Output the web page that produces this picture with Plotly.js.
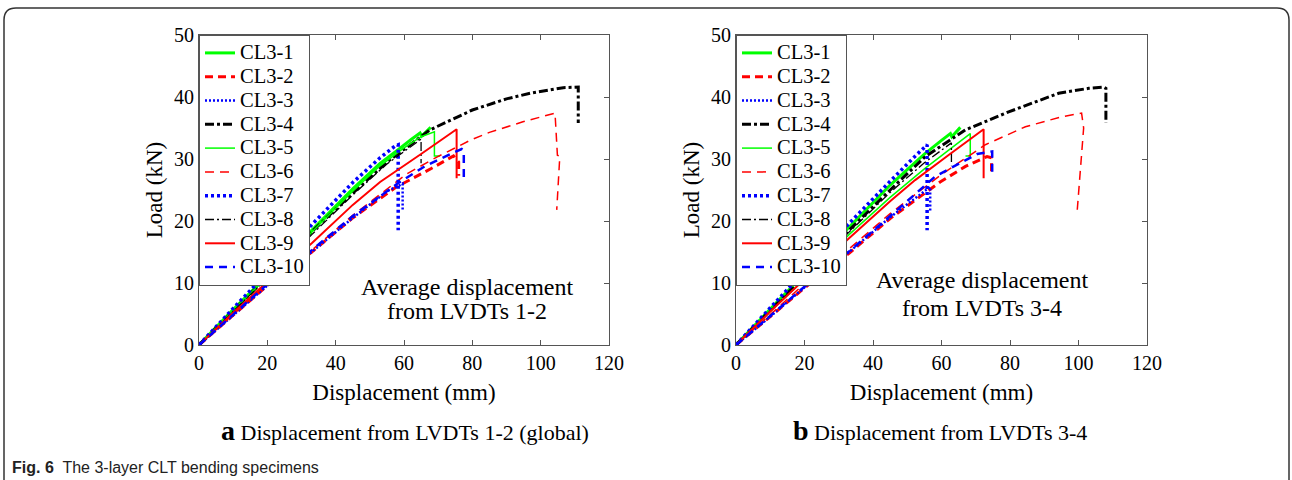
<!DOCTYPE html>
<html>
<head>
<meta charset="utf-8">
<script src="https://cdn.plot.ly/plotly-3.0.1.min.js"></script>
<style>html,body{margin:0;padding:0;background:#fff;}#chart{width:1292px;height:480px;}</style>
</head>
<body>
<div id="chart"></div>
<script>
// ---------- Series names ----------
const seriesNames = ['CL3-1','CL3-2','CL3-3','CL3-4','CL3-5','CL3-6','CL3-7','CL3-8','CL3-9','CL3-10'];

// ---------- Panel a: average displacement from LVDTs 1-2 (global) ----------
const a_CL3_1_x = [0, 10, 20, 33, 45, 53, 58, 62, 64.7, 65.2, 67.8];
const a_CL3_1_y = [0, 5.7, 11.2, 18.5, 25.2, 29.3, 31.4, 33.1, 34.2, 33.7, 35.1];
const a_CL3_2_x = [0, 10, 20, 33, 45, 57.8, 68.1, 74.5, 76, 76];
const a_CL3_2_y = [0, 4.8, 9.6, 15, 20.5, 25.5, 28.5, 30.5, 29.5, 27.3];
const a_CL3_3_x = [0, 10, 20, 33, 45, 55, 59.6, 59.6];
const a_CL3_3_y = [0, 4.8, 9.6, 15, 20.5, 24.8, 26, 21.8];
const a_CL3_4_x = [0, 10, 20, 32.5, 45, 55, 67.6, 80, 90, 96.9, 106.6, 111, 111];
const a_CL3_4_y = [0, 5.5, 11, 18, 24.5, 29.5, 34.7, 37.9, 39.7, 40.6, 41.5, 41.6, 35.8];
const a_CL3_5_x = [0, 10, 20, 33, 45, 53, 60, 65, 68.9, 68.9, 70.5];
const a_CL3_5_y = [0, 5.6, 11, 18.2, 24.8, 28.9, 31.8, 33.6, 34.4, 30.5, 30.5];
const a_CL3_6_x = [0, 10, 20, 33, 45, 60.8, 69.6, 79.3, 85, 94.8, 104.2, 104.9, 105.6, 104.7];
const a_CL3_6_y = [0, 4.9, 9.9, 15.3, 20.9, 27.6, 30.3, 33, 34.3, 36, 37.4, 30.6, 30.4, 21.8];
const a_CL3_7_x = [0, 10, 20, 33, 45, 53, 57.4, 58.3, 58.3];
const a_CL3_7_y = [0, 5.9, 11.7, 19.4, 26.2, 30.2, 32.1, 32.3, 18.5];
const a_CL3_8_x = [0, 10, 20, 33, 45, 55, 65, 65];
const a_CL3_8_y = [0, 5.4, 10.8, 17.8, 24.2, 29.2, 33.2, 29.3];
const a_CL3_9_x = [0, 10, 20, 33, 45, 53, 65, 75.4, 75.4];
const a_CL3_9_y = [0, 5.2, 10.2, 16.4, 22.6, 26.3, 30.8, 34.8, 26.9];
const a_CL3_10_x = [0, 10, 20, 33, 45, 58, 66, 74, 76.9, 77.5, 77.5];
const a_CL3_10_y = [0, 4.9, 9.8, 15.3, 20.8, 26, 28.8, 30.9, 31.6, 31.3, 26.6];

// ---------- Panel b: average displacement from LVDTs 3-4 ----------
const b_CL3_1_x = [0, 10, 20, 33, 45, 55, 60, 62.6, 63, 65.5];
const b_CL3_1_y = [0, 5.8, 11.5, 19, 25.8, 30.8, 33, 34.1, 33.6, 35.1];
const b_CL3_2_x = [0, 10, 20, 33, 45, 59.6, 67, 73.3, 74.6, 74.6];
const b_CL3_2_y = [0, 4.6, 9.2, 14.8, 20.4, 26.3, 28.8, 30.4, 30.2, 28];
const b_CL3_3_x = [0, 10, 20, 33, 45, 56.7, 56.7];
const b_CL3_3_y = [0, 4.6, 9.3, 15, 20.6, 25.5, 21.5];
const b_CL3_4_x = [0, 10, 20, 33, 45, 55.3, 67, 79.6, 94.2, 103, 107.4, 108, 108];
const b_CL3_4_y = [0, 5.6, 11.1, 18.5, 25, 30.4, 34.7, 37.6, 40.6, 41.4, 41.6, 41.4, 35.8];
const b_CL3_5_x = [0, 10, 20, 33, 45, 55, 62, 68.4, 68.4, 67];
const b_CL3_5_y = [0, 5.4, 10.6, 17.8, 23.8, 28.4, 31.4, 34.1, 30.5, 30.5];
const b_CL3_6_x = [0, 10, 20, 33, 45, 60, 72.8, 84.5, 95, 100.9, 101.5, 99.6];
const b_CL3_6_y = [0, 4.9, 9.9, 15.5, 21.2, 27.5, 32.3, 35.2, 36.8, 37.4, 35, 21.5];
const b_CL3_7_x = [0, 10, 20, 33, 45, 52, 55.8, 55.8];
const b_CL3_7_y = [0, 6, 11.9, 19.6, 26.4, 30.3, 32.3, 18.5];
const b_CL3_8_x = [0, 10, 20, 33, 45, 55, 62.9, 62.9];
const b_CL3_8_y = [0, 5.5, 11, 18.2, 24.6, 29.4, 32.6, 29];
const b_CL3_9_x = [0, 10, 20, 33, 45, 52.3, 62, 72.3, 72.3];
const b_CL3_9_y = [0, 5.4, 10.6, 17.2, 23.2, 26.6, 30.6, 34.8, 26.9];
const b_CL3_10_x = [0, 10, 20, 33, 45, 58.2, 70.4, 74.8, 74.8];
const b_CL3_10_y = [0, 4.7, 9.4, 15.1, 20.8, 27.2, 30.8, 31.2, 27.2];

// ---------- Axis ticks and texts ----------
const xTicks = [0, 20, 40, 60, 80, 100, 120];
const yTicks = [0, 10, 20, 30, 40, 50];
const xTitle = 'Displacement (mm)';
const yTitle = 'Load (kN)';
const noteA = ['Average displacement', 'from LVDTs 1-2'];
const noteB = ['Average displacement', 'from LVDTs 3-4'];
const capA = ['a', 'Displacement from LVDTs 1-2 (global)'];
const capB = ['b', 'Displacement from LVDTs 3-4'];
const figCap = ['Fig. 6', 'The 3-layer CLT bending specimens'];

// ---------- Styles ----------
const styles = [
  {color:'#00ff00', width:3,   dash:'solid'},
  {color:'#ff0000', width:3,   dash:'8px,5px'},
  {color:'#0000ff', width:2.5, dash:'2px,2px'},
  {color:'#000000', width:3,   dash:'9px,3px,3px,3px'},
  {color:'#00ff00', width:1.5, dash:'solid'},
  {color:'#ff0000', width:1.5, dash:'9px,6px'},
  {color:'#0000ff', width:3.5, dash:'3px,3px'},
  {color:'#000000', width:1.3, dash:'9px,3px,2px,3px'},
  {color:'#ff0000', width:2,   dash:'solid'},
  {color:'#0000ff', width:2.5, dash:'8px,6px'}
];

const A = [[a_CL3_1_x,a_CL3_1_y],[a_CL3_2_x,a_CL3_2_y],[a_CL3_3_x,a_CL3_3_y],[a_CL3_4_x,a_CL3_4_y],[a_CL3_5_x,a_CL3_5_y],
           [a_CL3_6_x,a_CL3_6_y],[a_CL3_7_x,a_CL3_7_y],[a_CL3_8_x,a_CL3_8_y],[a_CL3_9_x,a_CL3_9_y],[a_CL3_10_x,a_CL3_10_y]];
const B = [[b_CL3_1_x,b_CL3_1_y],[b_CL3_2_x,b_CL3_2_y],[b_CL3_3_x,b_CL3_3_y],[b_CL3_4_x,b_CL3_4_y],[b_CL3_5_x,b_CL3_5_y],
           [b_CL3_6_x,b_CL3_6_y],[b_CL3_7_x,b_CL3_7_y],[b_CL3_8_x,b_CL3_8_y],[b_CL3_9_x,b_CL3_9_y],[b_CL3_10_x,b_CL3_10_y]];

const SERIF = 'Liberation Serif, Times New Roman, serif';
const traces = [];
function addPanel(data, xa, ya, leg) {
  data.forEach((d, i) => {
    traces.push({
      type:'scatter', mode:'lines', x:d[0], y:d[1],
      xaxis:xa, yaxis:ya, legend:leg,
      name:'<span style="font-size:20.5px">' + seriesNames[i] + '</span>',
      line:{color:styles[i].color, width:styles[i].width, dash:styles[i].dash, simplify:false},
      hoverinfo:'skip'
    });
  });
}
addPanel(A, 'x', 'y', 'legend');
addPanel(B, 'x2', 'y2', 'legend2');

const W = 1292, H = 480;
const px = v => v / W, py = v => 1 - v / H;

function axisX(dom, anchor) {
  return {domain:dom, anchor:anchor, range:[0,120], tickvals:xTicks, ticks:'inside', ticklen:5, tickcolor:'#555',
    showline:true, linecolor:'#555', linewidth:1, mirror:'ticks', showgrid:false, zeroline:false,
    tickfont:{family:SERIF, size:20, color:'#000'},
    title:{text:xTitle, font:{family:SERIF, size:23, color:'#000'}, standoff:10}, fixedrange:true};
}
function axisY(dom, anchor) {
  return {domain:dom, anchor:anchor, range:[0,50], tickvals:yTicks, ticks:'inside', ticklen:5, tickcolor:'#555',
    showline:true, linecolor:'#555', linewidth:1, mirror:'ticks', showgrid:false, zeroline:false,
    tickfont:{family:SERIF, size:20, color:'#000'},
    title:{text:yTitle, font:{family:SERIF, size:23, color:'#000'}, standoff:4}, fixedrange:true};
}
const yDom = [py(345), py(35)];
const legendBase = {xanchor:'left', yanchor:'top', bgcolor:'#fff', bordercolor:'#555', borderwidth:1,
  font:{family:SERIF, size:16, color:'#000'}, tracegroupgap:0, itemwidth:30};

const noteFont = {family:SERIF, size:24, color:'#000'};
const layout = {
  width:W, height:H, margin:{l:0,r:0,t:0,b:0}, paper_bgcolor:'#fff', plot_bgcolor:'#fff',
  showlegend:true,
  xaxis: axisX([px(199), px(609)], 'y'),
  yaxis: axisY(yDom, 'x'),
  xaxis2: axisX([px(736), px(1147)], 'y2'),
  yaxis2: axisY(yDom, 'x2'),
  legend: Object.assign({x:px(199), y:py(35)}, legendBase),
  legend2: Object.assign({x:px(736), y:py(35)}, legendBase),
  annotations:[
    {xref:'x', yref:'y', x:78.4, y:9.35, text:noteA[0], showarrow:false, font:noteFont},
    {xref:'x', yref:'y', x:78.4, y:5.5, text:noteA[1], showarrow:false, font:noteFont},
    {xref:'x2', yref:'y2', x:71.9, y:10.45, text:noteB[0], showarrow:false, font:noteFont},
    {xref:'x2', yref:'y2', x:71.9, y:6.0, text:noteB[1], showarrow:false, font:noteFont},
    {xref:'paper', yref:'paper', x:px(405), y:py(430), xanchor:'center', yanchor:'middle', showarrow:false,
     text:'<span style="font-size:28px"><b>' + capA[0] + '</b></span> ' + capA[1], font:{family:SERIF, size:22, color:'#000'}},
    {xref:'paper', yref:'paper', x:px(940), y:py(430), xanchor:'center', yanchor:'middle', showarrow:false,
     text:'<span style="font-size:28px"><b>' + capB[0] + '</b></span> ' + capB[1], font:{family:SERIF, size:22, color:'#000'}},
    {xref:'paper', yref:'paper', x:px(10), y:py(467), xanchor:'left', yanchor:'middle', showarrow:false,
     text:'<b>' + figCap[0] + '</b>  ' + figCap[1], font:{family:'Liberation Sans, Arial, sans-serif', size:16, color:'#222'}}
  ],
  shapes:[
    {type:'path', xref:'paper', yref:'paper', line:{color:'#333', width:1.5},
     path:'M ' + px(4) + ',' + py(490) + ' L ' + px(4) + ',' + py(20) + ' Q ' + px(4) + ',' + py(8) + ' ' + px(16) + ',' + py(8) +
          ' L ' + px(1277) + ',' + py(8) + ' Q ' + px(1289) + ',' + py(8) + ' ' + px(1289) + ',' + py(20) + ' L ' + px(1289) + ',' + py(490)}
  ]
};

Plotly.newPlot('chart', traces, layout, {staticPlot:true, displayModeBar:false});
</script>
</body>
</html>
